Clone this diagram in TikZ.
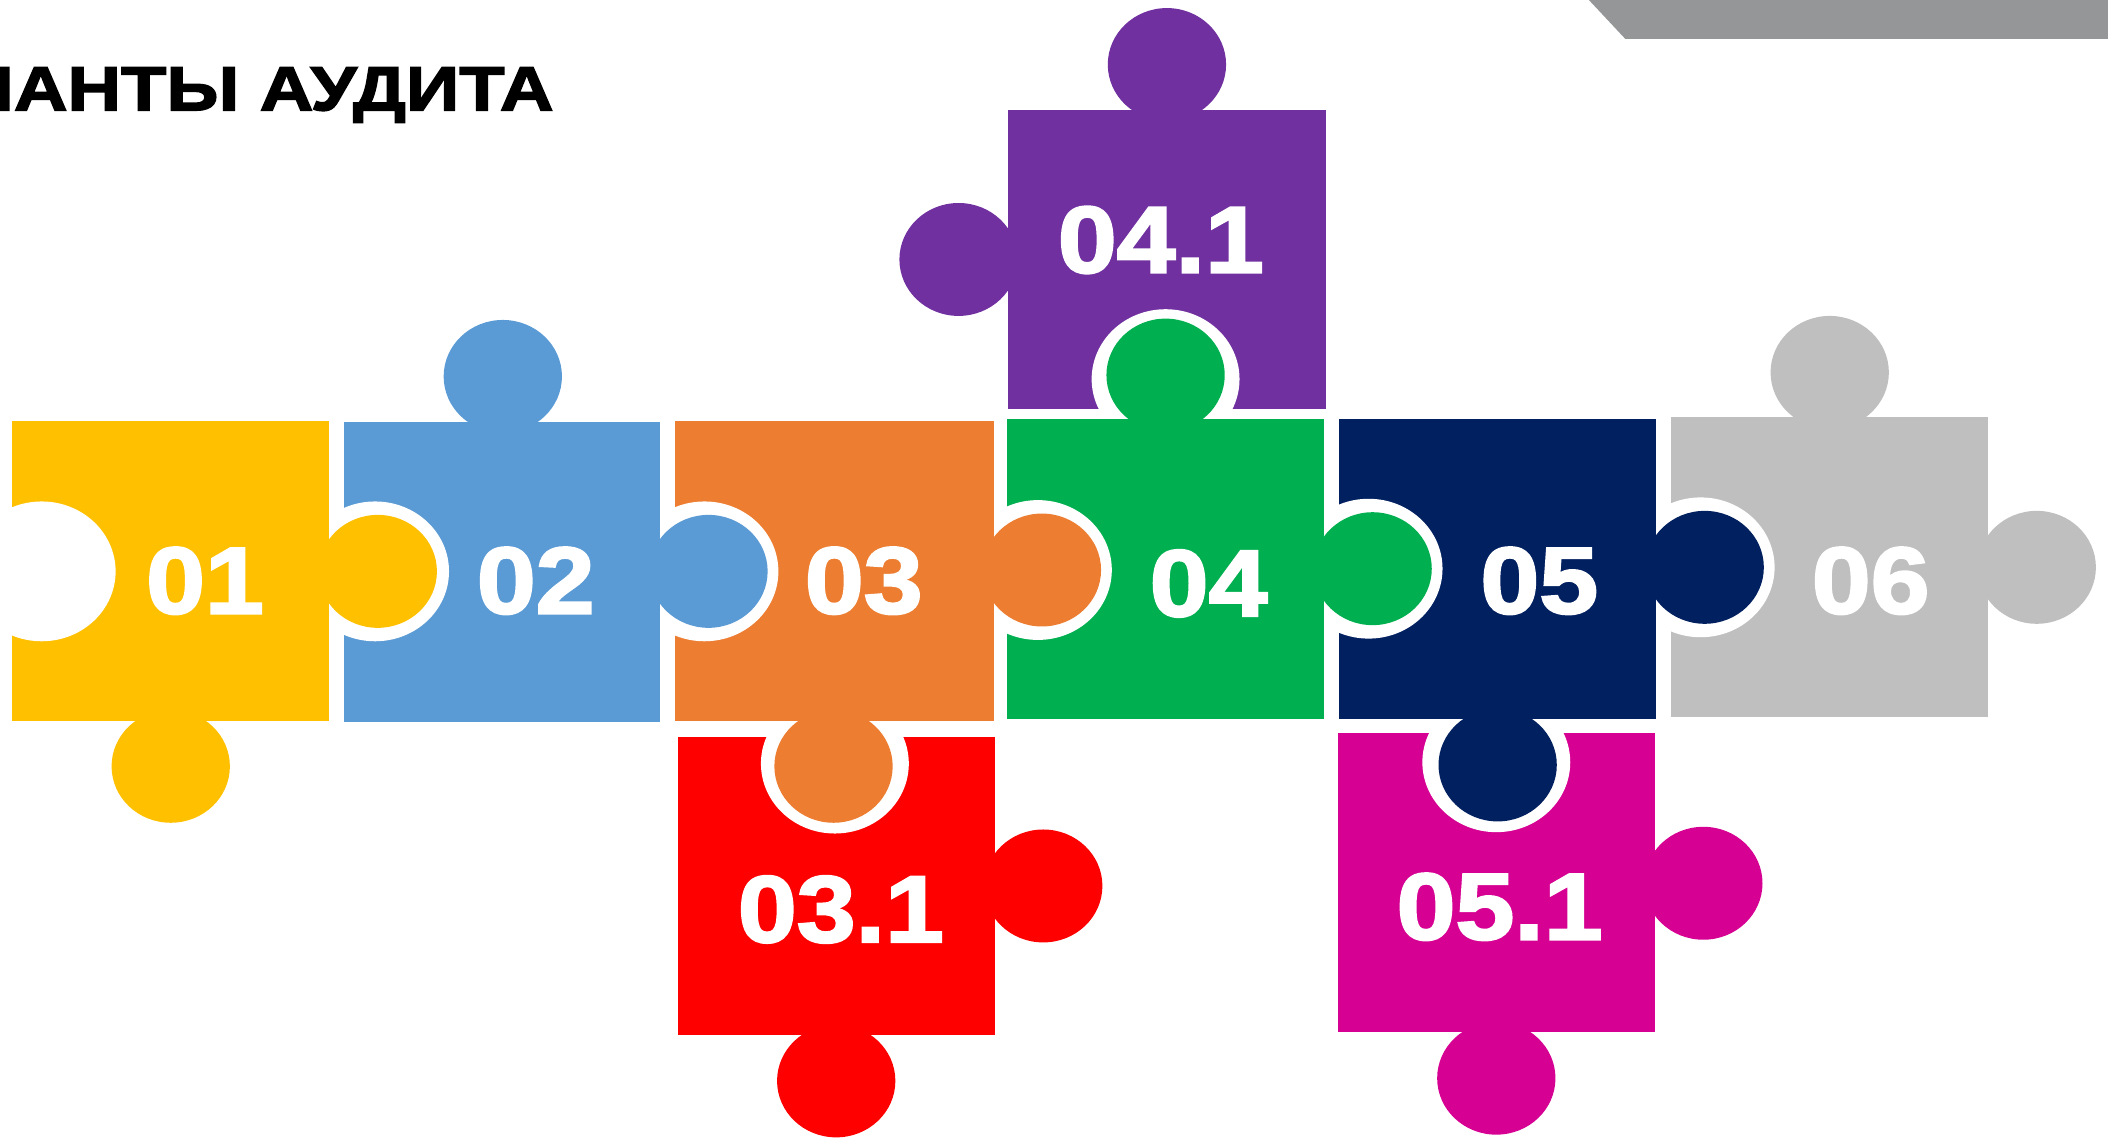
\documentclass[tikz,border=0pt]{standalone}
\usepackage{fontspec}
\setmainfont{Liberation Sans}
\newfontfamily\heavyfont[BoldFeatures={FakeBold=2.5,FakeStretch=1.12}]{Liberation Sans}
\newfontfamily\headfont[BoldFeatures={FakeBold=2.5,FakeStretch=1.19}]{Liberation Sans}
\definecolor{pyellow}{HTML}{FFC000}
\definecolor{pblue}{HTML}{5B9BD5}
\definecolor{porange}{HTML}{ED7D31}
\definecolor{pgreen}{HTML}{00B050}
\definecolor{pnavy}{HTML}{002060}
\definecolor{pgrey}{HTML}{BFBFBF}
\definecolor{ppurple}{HTML}{7030A0}
\definecolor{pred}{HTML}{FF0000}
\definecolor{pmagenta}{HTML}{D60093}
\definecolor{barc}{HTML}{959698}
\begin{document}
\begin{tikzpicture}[
    x=0.025cm, y=-0.025cm,
    knob/.style={x radius=44, y radius=42},
    hole/.style={x radius=55, y radius=52},
    num/.style={text=white, inner sep=0pt, font=\heavyfont\bfseries\fontsize{50}{50}\selectfont},
    headline/.style={inner sep=0pt, anchor=base east, font=\headfont\bfseries\fontsize{33}{33}\selectfont}
]
\useasboundingbox (0,0) rectangle (1568,847);
\clip (0,0) rectangle (1568,847);

\fill[barc] (1180,-2) -- (1570,-2) -- (1570,29) -- (1209,29) -- cycle;
\node[headline] (ttl) at (412,82) {ВАРИАНТЫ АУДИТА};

% pieces from right to left, so each knob covers the hole beside it
\fill[pgrey] (1243,310) rectangle +(236,223);
\foreach \c in {(1361,277),(1515,422)} \fill[pgrey] \c ellipse[knob];
\fill[white] (1265,422) ellipse[hole];

\fill[pmagenta] (995,545) rectangle +(236,223);
\foreach \c in {(1267,657),(1113,802)} \fill[pmagenta] \c ellipse[knob];
\fill[white] (1113,567) ellipse[hole];

\fill[pnavy] (996,312) rectangle +(236,223);
\foreach \c in {(1268,422),(1114,569)} \fill[pnavy] \c ellipse[knob];
\fill[white] (1018,423) ellipse[hole];

\fill[ppurple] (750,82) rectangle +(236,222);
\foreach \c in {(868,48),(713,193)} \fill[ppurple] \c ellipse[knob];
\fill[white] (867,282) ellipse[hole];

\fill[pgreen] (749,312) rectangle +(236,223);
\foreach \c in {(867,279),(1021,423)} \fill[pgreen] \c ellipse[knob];
\fill[white] (772,424) ellipse[hole];

\fill[pred] (504,548) rectangle +(236,222);
\foreach \c in {(776,659),(622,804)} \fill[pred] \c ellipse[knob];
\fill[white] (621,568) ellipse[hole];

\fill[porange] (502,313) rectangle +(237,223);
\foreach \c in {(775,424),(620,570)} \fill[porange] \c ellipse[knob];
\fill[white] (524,425) ellipse[hole];

\fill[pblue] (256,314) rectangle +(235,223);
\foreach \c in {(374,280),(527,425)} \fill[pblue] \c ellipse[knob];
\fill[white] (279,425) ellipse[hole];

\fill[pyellow] (9,313) rectangle +(236,223);
\foreach \c in {(281,425),(127,570)} \fill[pyellow] \c ellipse[knob];
\fill[white] (31,425) ellipse[hole];

% numbers
\node[num] (n01) at (152.5,432) {01};
\node[num] (n02) at (398.5,432) {02};
\node[num] (n03) at (642.5,432) {03};
\node[num] (n04) at (899,434) {04};
\node[num] (n05) at (1145,432) {05};
\node[num] (n06) at (1391.5,432) {06};
\node[num] (n041) at (863.5,178.5) {04.1};
\node[num] (n031) at (625.5,676.5) {03.1};
\node[num] (n051) at (1115.5,674.5) {05.1};
\end{tikzpicture}
\end{document}
